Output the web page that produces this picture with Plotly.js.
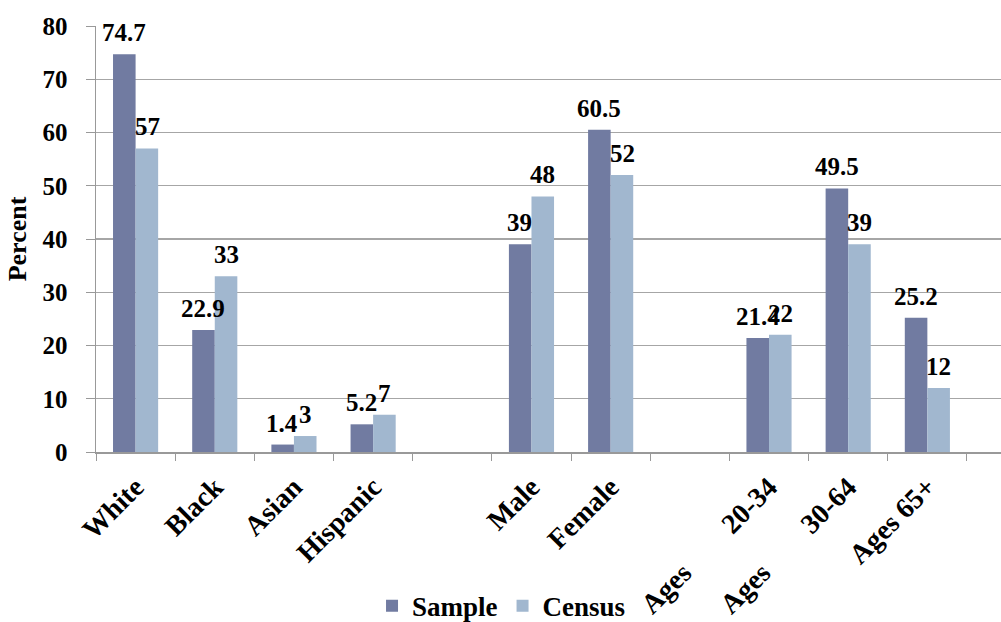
<!DOCTYPE html>
<html>
<head>
<meta charset="utf-8">
<script src="https://cdn.plot.ly/plotly-3.0.1.min.js"></script>
<style>html,body{margin:0;padding:0;background:#fff;}#chart{width:1001px;height:622px;}</style>
</head>
<body>
<div id="chart"></div>
<script>
var NB = '\u00a0';
function gap(n){ return new Array(n + 1).join(NB); }
var categories = ['White', 'Black', 'Asian', 'Hispanic', ' ', 'Male', 'Female', '  ', 'Ages 20-34', 'Ages 30-64', 'Ages 65+'];
var tickLabels = ['White', 'Black', 'Asian', 'Hispanic', '', 'Male', 'Female', '', 'Ages' + gap(8) + '20-34', 'Ages' + gap(8) + '30-64', 'Ages 65+'];
var sampleValues = [74.7, 22.9, 1.4, 5.2, null, 39, 60.5, null, 21.4, 49.5, 25.2];
var censusValues = [57, 33, 3, 7, null, 48, 52, null, 22, 39, 12];
var seriesNames = ['Sample', 'Census'];

var serif = 'Liberation Serif';
var labelFont = {family: serif, size: 25, color: '#000', weight: 'bold'};

var traces = [
  {type: 'bar', name: seriesNames[0], x: categories, y: sampleValues,
   marker: {color: '#717ba1'}, hoverinfo: 'none'},
  {type: 'bar', name: seriesNames[1], x: categories, y: censusValues,
   marker: {color: '#a1b7cf'}, hoverinfo: 'none'}
];

var annotations = [];
[sampleValues, censusValues].forEach(function(vals, s){
  vals.forEach(function(v, i){
    if (v === null) return;
    annotations.push({x: categories[i], y: v, xref: 'x', yref: 'y', text: String(v), showarrow: false,
      xanchor: 'center', yanchor: 'bottom', xshift: s === 0 ? -11.5 : 11.5, yshift: 6, font: labelFont});
  });
});

var layout = {
  width: 1001, height: 622,
  margin: {l: 96, r: 0, t: 26, b: 170, autoexpand: false},
  paper_bgcolor: '#fff', plot_bgcolor: '#fff',
  barmode: 'group', bargap: 0.43, bargroupgap: 0,
  font: {family: serif, color: '#000', weight: 'bold'},
  showlegend: true,
  annotations: annotations,
  legend: {orientation: 'h', x: 0.305, xanchor: 'left', y: -0.362, yanchor: 'middle',
           font: {family: serif, size: 27, color: '#000', weight: 'bold'}, itemwidth: 30, tracegroupgap: 0},
  xaxis: {
    type: 'category', range: [-0.5, 10.93], tickmode: 'array', tickvals: categories, ticktext: tickLabels,
    tickangle: -45, tickson: 'boundaries', ticks: 'outside', ticklen: 7, tickcolor: '#999', ticklabelstandoff: 6,
    showline: true, linecolor: '#999', linewidth: 1.5, showgrid: false,
    tickfont: {family: serif, size: 28, color: '#000', weight: 'bold'}, automargin: false
  },
  yaxis: {
    range: [0, 80], tickvals: [0, 10, 20, 30, 40, 50, 60, 70, 80], ticks: 'outside', ticklen: 9, tickcolor: '#999',
    ticklabelstandoff: 13,
    showline: true, linecolor: '#999', linewidth: 1.5, showgrid: true, gridcolor: '#a6a6a6', gridwidth: 1.2,
    zeroline: false, tickfont: {family: serif, size: 25, color: '#000', weight: 'bold'}, automargin: false,
    title: {text: 'Percent', font: {family: serif, size: 26, color: '#000', weight: 'bold'}, standoff: 8}
  }
};
Plotly.newPlot('chart', traces, layout, {staticPlot: true, displayModeBar: false});
</script>
</body>
</html>
